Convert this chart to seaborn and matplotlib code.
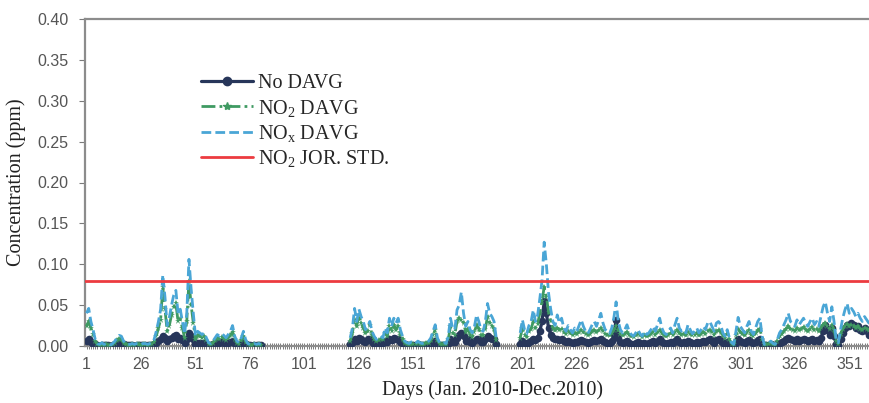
import numpy as np
import pandas as pd
import matplotlib
matplotlib.use("Agg")
import matplotlib.pyplot as plt
from matplotlib.lines import Line2D
from matplotlib.ticker import MultipleLocator, FixedLocator, FormatStrFormatter
import seaborn as sns

nan = float("nan")

# Daily averages, Jan 2010 - Dec 2010 (days 82-121 and 190-199 not recorded)
nox_davg = (
    [0.040, 0.046, 0.030, 0.020, 0.008, 0.003, 0.002, 0.004, 0.002, 0.003,
     0.002, 0.001, 0.003, 0.006, 0.010, 0.013, 0.012, 0.006, 0.003, 0.002,
     0.002, 0.003, 0.002, 0.003, 0.003, 0.002, 0.003, 0.003, 0.002, 0.003,
     0.004, 0.008, 0.018, 0.030, 0.045, 0.087, 0.060, 0.025, 0.035, 0.050,
     0.062, 0.068, 0.040, 0.045, 0.030, 0.015, 0.040, 0.106, 0.070, 0.040,
     0.012, 0.018, 0.016, 0.014, 0.016, 0.010, 0.004, 0.003, 0.006, 0.010,
     0.014, 0.012, 0.015, 0.013, 0.010, 0.014, 0.018, 0.025, 0.012, 0.006,
     0.004, 0.010, 0.018, 0.008, 0.003, 0.002, 0.002, 0.003, 0.002, 0.003, 0.002]
    + [nan] * 40
    + [0.010, 0.022, 0.046, 0.030, 0.045, 0.036, 0.030, 0.020, 0.024,
       0.030, 0.018, 0.012, 0.008, 0.010, 0.012, 0.010, 0.022, 0.016, 0.034,
       0.024, 0.034, 0.028, 0.034, 0.020, 0.012, 0.006, 0.004, 0.003, 0.005,
       0.004, 0.003, 0.006, 0.004, 0.003, 0.004, 0.005, 0.006, 0.010, 0.018,
       0.026, 0.010, 0.004, 0.003, 0.004, 0.003, 0.012, 0.034, 0.022, 0.020,
       0.044, 0.050, 0.066, 0.040, 0.024, 0.030, 0.020, 0.016, 0.024, 0.038,
       0.030, 0.020, 0.018, 0.030, 0.052, 0.040, 0.036, 0.030, 0.010]
    + [nan] * 10
    + [0.016, 0.032, 0.020, 0.015, 0.025, 0.030, 0.044, 0.030, 0.038, 0.058,
       0.080, 0.127, 0.100, 0.065, 0.045, 0.030, 0.025, 0.038, 0.028, 0.034,
       0.022, 0.018, 0.025, 0.020, 0.016, 0.022, 0.018, 0.025, 0.032, 0.024,
       0.018, 0.015, 0.020, 0.026, 0.030, 0.024, 0.032, 0.040, 0.028, 0.020,
       0.018, 0.015, 0.022, 0.035, 0.054, 0.030, 0.020, 0.016, 0.020, 0.026,
       0.018, 0.014, 0.012, 0.016, 0.020, 0.015, 0.012, 0.018, 0.014, 0.016,
       0.020, 0.024, 0.018, 0.026, 0.034, 0.022, 0.016, 0.014, 0.018, 0.022,
       0.016, 0.026, 0.034, 0.022, 0.018, 0.020, 0.016, 0.026, 0.020, 0.015,
       0.018, 0.022, 0.016, 0.020, 0.024, 0.020, 0.028, 0.030, 0.024, 0.018,
       0.028, 0.030, 0.026, 0.016, 0.012, 0.020, 0.010, 0.004, 0.002, 0.018,
       0.035, 0.024, 0.020, 0.016, 0.024, 0.030, 0.018, 0.014, 0.022, 0.030,
       0.034, 0.012, 0.002, 0.003, 0.004, 0.006, 0.003, 0.002, 0.008, 0.016,
       0.020, 0.026, 0.032, 0.040, 0.030, 0.028, 0.024, 0.032, 0.026, 0.030,
       0.034, 0.028, 0.024, 0.030, 0.034, 0.026, 0.030, 0.024, 0.036, 0.048,
       0.054, 0.040, 0.030, 0.048, 0.030, 0.008, 0.004, 0.020, 0.034, 0.044,
       0.052, 0.040, 0.046, 0.042, 0.036, 0.040, 0.034, 0.030, 0.036, 0.032,
       0.028, 0.030, 0.026, 0.030, 0.024, 0.026]
)

no2_davg = (
    [0.025, 0.030, 0.022, 0.015, 0.006, 0.002, 0.001, 0.002, 0.001, 0.002,
     0.001, 0.001, 0.002, 0.004, 0.007, 0.009, 0.008, 0.004, 0.002, 0.001,
     0.001, 0.002, 0.001, 0.002, 0.002, 0.001, 0.002, 0.002, 0.001, 0.002,
     0.003, 0.005, 0.012, 0.022, 0.032, 0.072, 0.045, 0.018, 0.025, 0.038,
     0.048, 0.052, 0.030, 0.033, 0.022, 0.010, 0.030, 0.080, 0.050, 0.028,
     0.008, 0.013, 0.012, 0.010, 0.012, 0.007, 0.003, 0.002, 0.004, 0.007,
     0.010, 0.009, 0.011, 0.009, 0.007, 0.010, 0.013, 0.017, 0.008, 0.004,
     0.003, 0.007, 0.012, 0.005, 0.002, 0.001, 0.001, 0.002, 0.001, 0.002, 0.001]
    + [nan] * 40
    + [0.006, 0.016, 0.032, 0.024, 0.038, 0.028, 0.022, 0.016, 0.018,
       0.026, 0.014, 0.009, 0.006, 0.007, 0.009, 0.008, 0.016, 0.012, 0.025,
       0.018, 0.026, 0.020, 0.024, 0.014, 0.009, 0.004, 0.003, 0.002, 0.003,
       0.003, 0.002, 0.004, 0.003, 0.002, 0.003, 0.004, 0.004, 0.007, 0.013,
       0.020, 0.007, 0.003, 0.002, 0.003, 0.002, 0.008, 0.024, 0.016, 0.014,
       0.030, 0.034, 0.032, 0.028, 0.017, 0.021, 0.014, 0.011, 0.017, 0.026,
       0.021, 0.014, 0.013, 0.021, 0.036, 0.028, 0.025, 0.021, 0.007]
    + [nan] * 10
    + [0.010, 0.022, 0.014, 0.011, 0.018, 0.021, 0.030, 0.022, 0.027, 0.040,
       0.055, 0.072, 0.060, 0.042, 0.030, 0.022, 0.019, 0.022, 0.020, 0.021,
       0.017, 0.015, 0.018, 0.016, 0.014, 0.016, 0.015, 0.017, 0.020, 0.017,
       0.015, 0.013, 0.015, 0.018, 0.019, 0.017, 0.019, 0.022, 0.018, 0.015,
       0.014, 0.013, 0.016, 0.020, 0.024, 0.019, 0.015, 0.013, 0.015, 0.017,
       0.014, 0.012, 0.011, 0.013, 0.015, 0.013, 0.011, 0.014, 0.012, 0.013,
       0.015, 0.017, 0.014, 0.017, 0.020, 0.016, 0.013, 0.012, 0.014, 0.016,
       0.013, 0.017, 0.020, 0.016, 0.014, 0.015, 0.013, 0.017, 0.015, 0.013,
       0.014, 0.016, 0.013, 0.015, 0.017, 0.015, 0.018, 0.019, 0.017, 0.014,
       0.018, 0.019, 0.017, 0.013, 0.010, 0.015, 0.008, 0.003, 0.002, 0.013,
       0.021, 0.017, 0.015, 0.013, 0.017, 0.020, 0.014, 0.012, 0.016, 0.019,
       0.021, 0.009, 0.002, 0.002, 0.003, 0.004, 0.002, 0.002, 0.006, 0.012,
       0.015, 0.018, 0.021, 0.024, 0.021, 0.020, 0.018, 0.022, 0.019, 0.021,
       0.023, 0.020, 0.018, 0.021, 0.023, 0.019, 0.021, 0.018, 0.023, 0.026,
       0.028, 0.024, 0.021, 0.026, 0.020, 0.006, 0.003, 0.015, 0.021, 0.025,
       0.027, 0.024, 0.026, 0.025, 0.022, 0.024, 0.021, 0.020, 0.022, 0.021,
       0.019, 0.020, 0.018, 0.020, 0.017, 0.018]
)

no_davg = (
    [0.006, 0.008, 0.005, 0.003, 0.002, 0.001, 0.000, 0.001, 0.001, 0.001,
     0.001, 0.000, 0.001, 0.002, 0.003, 0.004, 0.004, 0.002, 0.001, 0.001,
     0.001, 0.001, 0.000, 0.001, 0.001, 0.001, 0.001, 0.001, 0.001, 0.001,
     0.001, 0.002, 0.004, 0.006, 0.008, 0.012, 0.010, 0.006, 0.008, 0.010,
     0.012, 0.014, 0.009, 0.010, 0.007, 0.004, 0.008, 0.016, 0.012, 0.008,
     0.003, 0.004, 0.004, 0.003, 0.004, 0.003, 0.001, 0.001, 0.002, 0.003,
     0.004, 0.004, 0.005, 0.004, 0.003, 0.004, 0.005, 0.006, 0.003, 0.002,
     0.001, 0.003, 0.004, 0.002, 0.001, 0.001, 0.000, 0.001, 0.001, 0.001, 0.001]
    + [nan] * 40
    + [0.002, 0.004, 0.008, 0.006, 0.010, 0.008, 0.006, 0.005, 0.008,
       0.009, 0.005, 0.003, 0.002, 0.003, 0.004, 0.004, 0.006, 0.005, 0.009,
       0.007, 0.010, 0.008, 0.009, 0.005, 0.003, 0.002, 0.001, 0.001, 0.001,
       0.001, 0.001, 0.002, 0.001, 0.001, 0.001, 0.001, 0.002, 0.003, 0.004,
       0.006, 0.003, 0.001, 0.001, 0.001, 0.001, 0.003, 0.008, 0.005, 0.005,
       0.010, 0.014, 0.016, 0.012, 0.006, 0.008, 0.005, 0.004, 0.006, 0.009,
       0.008, 0.005, 0.005, 0.008, 0.012, 0.010, 0.009, 0.008, 0.003]
    + [nan] * 10
    + [0.003, 0.006, 0.004, 0.003, 0.005, 0.006, 0.009, 0.007, 0.010, 0.018,
       0.030, 0.055, 0.040, 0.022, 0.014, 0.010, 0.008, 0.009, 0.007, 0.008,
       0.006, 0.005, 0.006, 0.005, 0.004, 0.005, 0.005, 0.006, 0.007, 0.006,
       0.005, 0.004, 0.005, 0.006, 0.007, 0.006, 0.007, 0.009, 0.006, 0.005,
       0.004, 0.004, 0.006, 0.014, 0.032, 0.010, 0.005, 0.004, 0.005, 0.006,
       0.004, 0.003, 0.003, 0.004, 0.005, 0.004, 0.003, 0.004, 0.003, 0.004,
       0.005, 0.006, 0.004, 0.006, 0.008, 0.005, 0.004, 0.003, 0.004, 0.005,
       0.004, 0.006, 0.008, 0.005, 0.004, 0.005, 0.004, 0.006, 0.005, 0.004,
       0.004, 0.005, 0.004, 0.005, 0.006, 0.005, 0.007, 0.008, 0.006, 0.004,
       0.007, 0.008, 0.006, 0.004, 0.003, 0.005, 0.002, 0.001, 0.001, 0.004,
       0.008, 0.006, 0.005, 0.004, 0.006, 0.007, 0.005, 0.004, 0.005, 0.007,
       0.008, 0.003, 0.001, 0.001, 0.001, 0.002, 0.001, 0.001, 0.002, 0.004,
       0.005, 0.006, 0.008, 0.010, 0.008, 0.007, 0.006, 0.008, 0.006, 0.007,
       0.008, 0.007, 0.006, 0.007, 0.008, 0.006, 0.007, 0.006, 0.010, 0.018,
       0.026, 0.020, 0.014, 0.022, 0.012, 0.003, 0.001, 0.008, 0.016, 0.022,
       0.026, 0.024, 0.028, 0.026, 0.022, 0.025, 0.020, 0.018, 0.022, 0.018,
       0.014, 0.016, 0.012, 0.014, 0.010, 0.012]
)

days = np.arange(1, 366)
no2_jor_std = 0.08

x_ticks = list(range(1, 352, 25))
y_ticks = [0.00, 0.05, 0.10, 0.15, 0.20, 0.25, 0.30, 0.35, 0.40]

series_labels = ["No DAVG", r"NO$_2$ DAVG", r"NO$_\mathrm{x}$ DAVG", r"NO$_2$ JOR. STD."]
x_title = "Days (Jan. 2010-Dec.2010)"
y_title = "Concentration (ppm)"

for vals in (nox_davg, no2_davg, no_davg):
    assert len(vals) == len(days)


def to_long(values):
    df = pd.DataFrame({"day": days, "value": values})
    missing = df["value"].isna()
    df["block"] = (missing != missing.shift()).cumsum()
    return df.dropna()


sns.set_theme(style="white")
plt.rcParams["font.family"] = ["Liberation Serif", "DejaVu Serif"]
plt.rcParams["mathtext.fontset"] = "custom"
plt.rcParams["mathtext.rm"] = "Liberation Serif"
plt.rcParams["mathtext.it"] = "Liberation Serif:italic"

NAVY = "#27365a"
GREEN = "#3f9a62"
BLUE = "#4aa6d6"
RED = "#ec3b40"
GRID_GREY = "#8c8c8c"

fig = plt.figure(figsize=(8.70, 4.03), dpi=100)
ax_left, ax_bottom = 85 / 870, 1 - 346 / 403
ax = fig.add_axes([ax_left, ax_bottom, 1 - ax_left + 0.01, (346 - 19) / 403])

sns.lineplot(data=to_long(no_davg), x="day", y="value", units="block", estimator=None,
             color=NAVY, lw=2.3, marker="o", markersize=5.5, markeredgewidth=0,
             legend=False, ax=ax, zorder=3)
sns.lineplot(data=to_long(no2_davg), x="day", y="value", units="block", estimator=None,
             color=GREEN, lw=2.0, linestyle=(0, (5, 1.5, 1, 1.5)), marker="*",
             markersize=5, markeredgewidth=0, legend=False, ax=ax, zorder=4)
sns.lineplot(data=to_long(nox_davg), x="day", y="value", units="block", estimator=None,
             color=BLUE, lw=2.0, linestyle=(0, (3.5, 1.5)), legend=False, ax=ax, zorder=5)
ax.axhline(no2_jor_std, color=RED, lw=2.0, zorder=6)

ax.set_xlim(0.3, 364.5)
ax.set_ylim(0, 0.40)

ax.xaxis.set_major_locator(FixedLocator(x_ticks))
ax.xaxis.set_minor_locator(MultipleLocator(1))
ax.yaxis.set_major_locator(FixedLocator(y_ticks))
ax.yaxis.set_major_formatter(FormatStrFormatter("%.2f"))

for lab in ax.get_xticklabels() + ax.get_yticklabels():
    lab.set_fontfamily("Liberation Sans")
    lab.set_fontsize(11.5)
ax.tick_params(axis="x", which="both", direction="inout", length=4, width=0.7,
               color="#7a7a7a", labelcolor="#555555", pad=6, bottom=True)
ax.tick_params(axis="y", which="major", direction="out", length=4, width=0.8,
               color="#7a7a7a", labelcolor="#555555", pad=8, left=True)

for side in ("left", "top", "bottom"):
    ax.spines[side].set_color(GRID_GREY)
    ax.spines[side].set_linewidth(1.6)
ax.spines["right"].set_visible(False)

ax.set_xlabel(x_title, fontsize=14.5, color="#222222")
ax.set_ylabel(y_title, fontsize=14.5, color="#222222")
ax_w_px = (1 - ax_left + 0.01) * 870
ax.xaxis.set_label_coords((492 - 85) / ax_w_px, -(380 - 346) / 327)
ax.xaxis.label.set_va("top")
ax.yaxis.set_label_coords((26 - 85) / ax_w_px, 0.5)

handles = [
    Line2D([], [], color=NAVY, lw=2.3, marker="o", markersize=6),
    Line2D([], [], color=GREEN, lw=2.0, linestyle=(0, (5, 1.5, 1, 1.5)), marker="*", markersize=6),
    Line2D([], [], color=BLUE, lw=2.0, linestyle=(0, (3.5, 1.5))),
    Line2D([], [], color=RED, lw=2.0),
]
ax.legend(handles, series_labels, loc="upper left",
          bbox_to_anchor=(201 / 870, 1 - 74 / 403), bbox_transform=fig.transFigure,
          frameon=False, fontsize=14.5, handlelength=2.6, handletextpad=0.25,
          labelspacing=0.22, borderpad=0, borderaxespad=0, numpoints=1)

fig.savefig("out.png", dpi=100)
